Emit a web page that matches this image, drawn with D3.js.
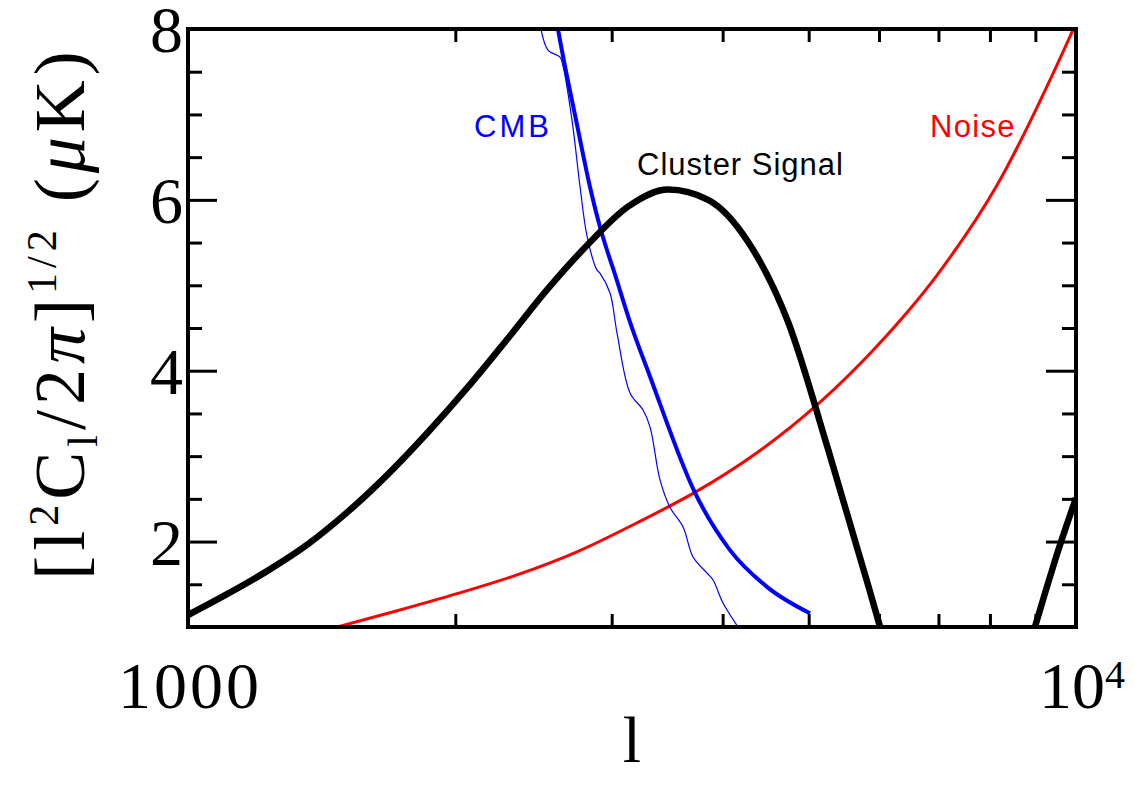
<!DOCTYPE html>
<html>
<head>
<meta charset="utf-8">
<script src="https://cdn.jsdelivr.net/npm/d3@7"></script>
<style>
  body { margin: 0; background: #fff; }
</style>
</head>
<body>
<div id="chart"></div>
<script>
// multipole l and amplitude [l^2 C_l / 2pi]^(1/2) in uK
const clusterL = [1000, 1109, 1230, 1365, 1514, 1680, 1863, 2067, 2293, 2543, 2822, 3130, 3472, 3852, 4272, 4740, 5258, 5833, 6017];
const clusterV = [1.14, 1.39, 1.66, 1.97, 2.35, 2.79, 3.28, 3.81, 4.38, 4.96, 5.48, 5.92, 6.12, 6.00, 5.51, 4.57, 3.08, 1.49, 1.00];

const clusterTailL = [8990, 9230, 9471, 10000];
const clusterTailV = [1.00, 1.40, 1.78, 2.51];

const noiseL = [1472, 1720, 2009, 2347, 2742, 3204, 3743, 4372, 5109, 5970, 6975, 8147, 9520, 9922, 10000];
const noiseV = [1.00, 1.19, 1.39, 1.61, 1.88, 2.22, 2.59, 3.04, 3.60, 4.29, 5.12, 6.17, 7.58, 7.99, 8.07];

const cmbL = [2595, 2611, 2742, 2836, 2911, 2964, 3010, 3146, 3314, 3724, 4077, 4487, 5017];
const cmbV = [8.15, 7.99, 6.88, 6.15, 5.68, 5.41, 5.20, 4.57, 3.93, 2.57, 1.90, 1.47, 1.16];

const cmbThinL = [2490, 2497, 2544, 2624, 2645, 2707, 2764, 2815, 2887, 2911, 2987, 3042, 3146, 3254, 3314, 3401, 3490, 3610, 3705, 3842, 3902, 4004, 4163];
const cmbThinV = [8.10, 8.00, 7.75, 7.67, 7.56, 6.93, 6.15, 5.57, 5.18, 5.14, 4.91, 4.44, 3.74, 3.54, 3.34, 2.72, 2.40, 2.17, 1.82, 1.63, 1.55, 1.28, 1.00];

const xMinorTicks = [2000, 3000, 4000, 5000, 6000, 7000, 8000, 9000];
const yMinorTicks = [1.5, 2.5, 3, 3.5, 4.5, 5, 5.5, 6.5, 7, 7.5];
const yMajorTicks = [2, 4, 6, 8];

const W = 1135, H = 789;
const margin = { left: 188, right: 1076, top: 29, bottom: 627 };

const svg = d3.select('#chart').append('svg')
    .attr('width', W)
    .attr('height', H);

const x = d3.scaleLog().domain([1000, 10000]).range([margin.left, margin.right]);
const y = d3.scaleLinear().domain([1, 8]).range([margin.bottom, margin.top]);

svg.append('clipPath').attr('id', 'plotClip')
  .append('rect')
    .attr('x', margin.left).attr('y', margin.top)
    .attr('width', margin.right - margin.left)
    .attr('height', margin.bottom - margin.top);

const zip = (ls, vs) => ls.map((l, i) => ({ l: l, v: vs[i] }));

const smooth = d3.line()
    .x(d => x(d.l))
    .y(d => y(d.v))
    .curve(d3.curveMonotoneX);

const wiggly = d3.line()
    .x(d => x(d.l))
    .y(d => y(d.v))
    .curve(d3.curveCatmullRom.alpha(0.5));

const plot = svg.append('g').attr('clip-path', 'url(#plotClip)');

function curve(data, gen, color, width) {
  plot.append('path')
      .datum(data)
      .attr('fill', 'none')
      .attr('stroke', color)
      .attr('stroke-width', width)
      .attr('stroke-linejoin', 'round')
      .attr('d', gen);
}

curve(zip(noiseL, noiseV), smooth, '#ff0000', 3);
curve(zip(cmbThinL, cmbThinV), wiggly, '#0000ff', 1.2);
curve(zip(cmbL, cmbV), smooth, '#0000ff', 4);
curve(zip(clusterL, clusterV), smooth, '#000', 6.5);
curve(zip(clusterTailL, clusterTailV), smooth, '#000', 6.5);

// ticks on all four sides, pointing inwards
function ticks(axis, tx, ty) {
  const g = svg.append('g')
      .attr('transform', 'translate(' + tx + ',' + ty + ')')
      .call(axis);
  g.select('.domain').remove();
  g.selectAll('.tick line').attr('stroke', '#000').attr('stroke-width', 3);
  g.selectAll('.tick text').remove();
}

ticks(d3.axisBottom(x).tickValues(xMinorTicks).tickSize(-13), 0, margin.bottom);
ticks(d3.axisTop(x).tickValues(xMinorTicks).tickSize(-13), 0, margin.top);
ticks(d3.axisLeft(y).tickValues(yMinorTicks).tickSize(-14), margin.left, 0);
ticks(d3.axisLeft(y).tickValues(yMajorTicks).tickSize(-29), margin.left, 0);
ticks(d3.axisRight(y).tickValues(yMinorTicks).tickSize(-14), margin.right, 0);
ticks(d3.axisRight(y).tickValues(yMajorTicks).tickSize(-30), margin.right, 0);

svg.append('rect')
    .attr('x', margin.left).attr('y', margin.top)
    .attr('width', margin.right - margin.left)
    .attr('height', margin.bottom - margin.top)
    .attr('fill', 'none')
    .attr('stroke', '#000')
    .attr('stroke-width', 4);

const serif = '"Liberation Serif", "DejaVu Serif", serif';
const sans = '"Liberation Sans", Arial, sans-serif';

// y tick labels
svg.selectAll('.ylab')
  .data(yMajorTicks)
  .enter().append('text')
    .attr('class', 'ylab')
    .attr('x', 183)
    .attr('y', d => y(d) + 23)
    .attr('text-anchor', 'end')
    .attr('font-family', serif)
    .attr('font-size', 66)
    .text(d => d);

// x tick labels
svg.append('text')
    .attr('x', x(1000) + 2)
    .attr('y', 708)
    .attr('text-anchor', 'middle')
    .attr('font-family', serif)
    .attr('font-size', 66)
    .attr('letter-spacing', 3)
    .text('1000');

const tenK = svg.append('text')
    .attr('x', x(10000) - 37)
    .attr('y', 708)
    .attr('font-family', serif)
    .attr('font-size', 66);
tenK.append('tspan').text('10');
tenK.append('tspan').attr('dy', -20).attr('font-size', 40).text('4');

// axis titles
svg.append('text')
    .attr('x', (margin.left + margin.right) / 2)
    .attr('y', 762)
    .attr('text-anchor', 'middle')
    .attr('font-family', serif)
    .attr('font-size', 66)
    .text('l');

const yt = svg.append('text')
    .attr('transform', 'translate(84,313) rotate(-90)')
    .attr('text-anchor', 'middle')
    .attr('font-family', serif)
    .attr('font-size', 72)
    .attr('letter-spacing', 5);
yt.append('tspan').text('[l');
yt.append('tspan').attr('dy', -26).attr('font-size', 42).text('2');
yt.append('tspan').attr('dy', 26).text('C');
yt.append('tspan').attr('dy', 13).attr('font-size', 42).text('l');
yt.append('tspan').attr('dy', -13).text('/2');
yt.append('tspan').attr('font-style', 'italic').text('π');
yt.append('tspan').text(']');
yt.append('tspan').attr('dy', -28).attr('font-size', 42).text('1/2');
yt.append('tspan').attr('dy', 28).text('\u00a0(');
yt.append('tspan').attr('font-style', 'italic').text('μ');
yt.append('tspan').text('K)');

// curve labels
function label(txt, lx, ly, color, spacing) {
  svg.append('text')
      .attr('x', lx)
      .attr('y', ly)
      .attr('font-family', sans)
      .attr('font-size', 31)
      .attr('letter-spacing', spacing)
      .attr('fill', color)
      .text(txt);
}
label('CMB', 474, 137, '#0000ff', 3);
label('Cluster Signal', 637, 175, '#000', 1);
label('Noise', 930, 137, '#ff0000', 1.3);
</script>
</body>
</html>
